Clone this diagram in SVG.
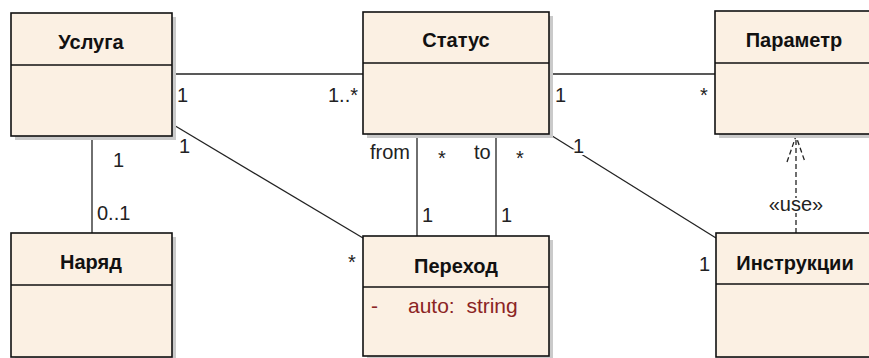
<svg xmlns="http://www.w3.org/2000/svg" width="869" height="358" viewBox="0 0 869 358">
  <style>
    .shadow { fill: #cacaca; }
    .box { fill: #fbf0e3; stroke: #111; stroke-width: 1.6; }
    .sep { stroke: #111; stroke-width: 1.6; }
    .title { font-family: "Liberation Sans", Arial, sans-serif; font-size: 20px; font-weight: bold; fill: #111; text-anchor: middle; }
    .attr { font-family: "Liberation Sans", Arial, sans-serif; font-size: 21px; fill: #8b2424; white-space: pre; }
    .conn { stroke: #222; stroke-width: 1.3; fill: none; }
    .dep { stroke: #222; stroke-width: 1.3; fill: none; stroke-dasharray: 5 3; }
    .lbl { font-family: "Liberation Sans", Arial, sans-serif; font-size: 20px; fill: #222; }
    .knock { paint-order: stroke; stroke: #fff; stroke-width: 4; }
  </style>

  <!-- associations and dependency -->
  <g id="connectors">
    <!-- Услуга — Статус -->
    <line class="conn" x1="172" y1="74" x2="363" y2="74"/>
    <text class="lbl" x="177" y="102">1</text>
    <text class="lbl" x="358" y="102" text-anchor="end">1..*</text>

    <!-- Статус — Параметр -->
    <line class="conn" x1="549" y1="74" x2="715" y2="74"/>
    <text class="lbl" x="555" y="102">1</text>
    <text class="lbl" x="700" y="102">*</text>

    <!-- Услуга — Наряд -->
    <line class="conn" x1="92" y1="136" x2="92" y2="233"/>
    <text class="lbl" x="113" y="167">1</text>
    <text class="lbl" x="97" y="220">0..1</text>

    <!-- Услуга — Переход -->
    <line class="conn" x1="172" y1="124" x2="363" y2="238"/>
    <text class="lbl knock" x="179" y="153">1</text>
    <text class="lbl" x="348" y="269">*</text>

    <!-- Статус — Переход (from) -->
    <line class="conn" x1="417" y1="134" x2="417" y2="236"/>
    <text class="lbl" x="370" y="159">from</text>
    <text class="lbl" x="438" y="165">*</text>
    <text class="lbl" x="422" y="222">1</text>

    <!-- Статус — Переход (to) -->
    <line class="conn" x1="496" y1="134" x2="496" y2="236"/>
    <text class="lbl" x="474" y="159">to</text>
    <text class="lbl" x="516" y="165">*</text>
    <text class="lbl" x="501" y="222">1</text>

    <!-- Статус — Инструкции -->
    <line class="conn" x1="549" y1="134" x2="716" y2="238"/>
    <text class="lbl knock" x="573" y="153">1</text>
    <text class="lbl" x="699" y="271">1</text>

    <!-- Инструкции uses Параметр -->
    <line class="dep" x1="796" y1="233" x2="796" y2="136"/>
    <polyline class="dep" points="787,162 796,136 805,162"/>
    <text class="lbl knock" x="796" y="211" text-anchor="middle" font-size="22">«use»</text>
  </g>

  <g id="uslyga">
    <rect class="shadow" x="15" y="17" width="161" height="123"/>
    <rect class="box" x="11" y="13" width="161" height="123"/>
    <line class="sep" x1="11" y1="65" x2="172" y2="65"/>
    <text class="title" x="91" y="49">Услуга</text>
  </g>

  <g id="status">
    <rect class="shadow" x="367" y="16" width="186" height="122"/>
    <rect class="box" x="363" y="12" width="186" height="122"/>
    <line class="sep" x1="363" y1="63" x2="549" y2="63"/>
    <text class="title" x="456" y="47">Статус</text>
  </g>

  <g id="parametr">
    <rect class="shadow" x="719" y="15" width="158" height="123"/>
    <rect class="box" x="715" y="11" width="158" height="123"/>
    <line class="sep" x1="715" y1="63" x2="873" y2="63"/>
    <text class="title" x="794" y="47">Параметр</text>
  </g>

  <g id="naryad">
    <rect class="shadow" x="15" y="237" width="161" height="124"/>
    <rect class="box" x="11" y="233" width="161" height="124"/>
    <line class="sep" x1="11" y1="285" x2="172" y2="285"/>
    <text class="title" x="91" y="269">Наряд</text>
  </g>

  <g id="perehod">
    <rect class="shadow" x="367" y="240" width="186" height="120"/>
    <rect class="box" x="363" y="236" width="186" height="120"/>
    <line class="sep" x1="363" y1="287" x2="549" y2="287"/>
    <text class="title" x="456" y="273">Переход</text>
    <text class="attr" x="371" y="313">-</text>
    <text class="attr" x="408" y="313" xml:space="preserve">auto:  string</text>
  </g>

  <g id="instrukcii">
    <rect class="shadow" x="720" y="237" width="158" height="124"/>
    <rect class="box" x="716" y="233" width="158" height="124"/>
    <line class="sep" x1="716" y1="284" x2="874" y2="284"/>
    <text class="title" x="795" y="270">Инструкции</text>
  </g>
</svg>
